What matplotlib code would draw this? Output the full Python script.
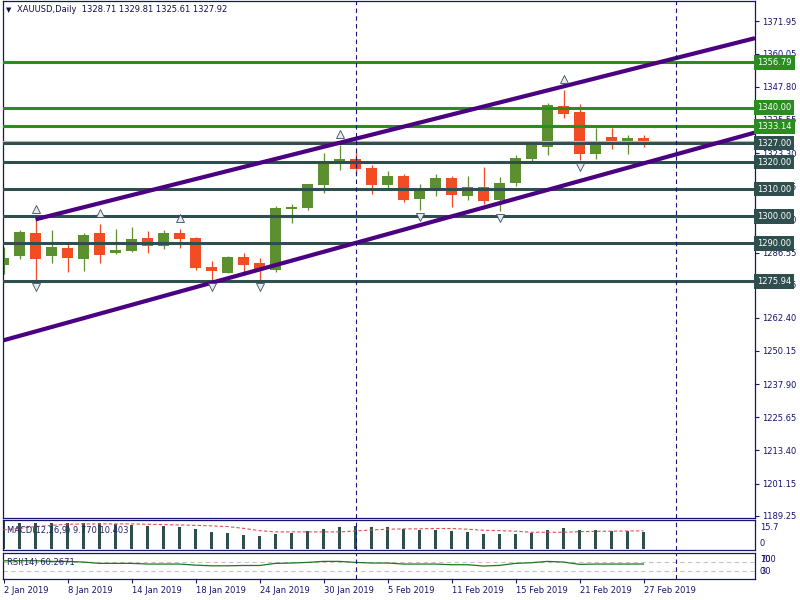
import numpy as np
import pandas as pd
import matplotlib
matplotlib.use("Agg")
import matplotlib.pyplot as plt

# ---- data ----
symbol = "XAUUSD,Daily"
start_date = "2019-01-02"

opens  = [1282.1, 1285.1, 1293.8, 1285.1, 1288.3, 1284.3, 1293.8, 1286.2, 1287.2, 1292.0,
          1289.1, 1293.7, 1291.9, 1281.1, 1278.9, 1284.8, 1282.6, 1280.0, 1302.8, 1303.0,
          1311.5, 1320.1, 1321.1, 1317.8, 1311.5, 1314.8, 1306.3, 1310.0, 1314.1, 1307.4,
          1310.7, 1305.9, 1312.2, 1321.2, 1325.7, 1340.7, 1338.5, 1323.1, 1329.3, 1327.2,
          1328.71]
highs  = [1288.6, 1294.9, 1298.6, 1294.9, 1290.1, 1293.8, 1297.2, 1295.3, 1296.0, 1294.6,
          1294.9, 1295.2, 1292.2, 1283.3, 1285.2, 1286.3, 1284.4, 1303.7, 1304.4, 1311.9,
          1323.3, 1326.3, 1323.7, 1318.9, 1316.7, 1315.6, 1311.9, 1315.6, 1314.8, 1314.8,
          1318.1, 1314.4, 1322.6, 1327.4, 1341.9, 1346.7, 1341.5, 1332.6, 1332.6, 1330.0,
          1329.81]
lows   = [1278.5, 1284.3, 1276.3, 1282.5, 1279.3, 1279.9, 1282.5, 1286.0, 1286.8, 1286.4,
          1287.7, 1288.3, 1280.1, 1276.3, 1278.9, 1278.1, 1276.3, 1279.3, 1297.4, 1302.2,
          1308.5, 1317.0, 1315.6, 1308.1, 1310.4, 1305.2, 1302.2, 1307.4, 1303.3, 1305.9,
          1304.4, 1301.9, 1311.1, 1320.4, 1322.6, 1336.4, 1320.9, 1321.2, 1324.9, 1323.1,
          1325.61]
closes = [1284.6, 1294.2, 1284.3, 1288.6, 1284.7, 1293.1, 1285.8, 1287.5, 1291.6, 1288.8,
          1293.8, 1291.5, 1280.7, 1279.6, 1284.8, 1281.9, 1280.4, 1303.0, 1303.4, 1311.9,
          1319.6, 1321.1, 1317.4, 1311.5, 1314.8, 1305.9, 1310.0, 1314.1, 1307.8, 1310.7,
          1305.6, 1312.2, 1321.5, 1326.4, 1341.1, 1337.9, 1323.1, 1327.8, 1327.2, 1328.9,
          1327.92]

macd   = [15.7, 15.0, 15.0, 14.7, 14.7, 15.0, 14.7, 14.3, 13.7, 13.2,
          13.2, 12.4, 11.5, 9.8, 9.0, 8.1, 7.5, 8.6, 9.4, 10.5,
          11.5, 12.4, 13.2, 12.8, 12.4, 11.5, 10.9, 10.9, 10.3, 9.8,
          8.6, 8.6, 8.6, 9.4, 10.9, 12.0, 10.9, 10.9, 10.3, 10.3,
          9.77]
signal = [10.9, 11.8, 12.8, 13.5, 14.1, 14.3, 14.3, 14.3, 14.3, 14.1,
          13.9, 13.7, 13.5, 13.2, 12.8, 11.8, 10.5, 9.8, 9.8, 9.8,
          9.8, 9.8, 10.3, 10.9, 11.3, 11.5, 11.5, 11.7, 11.7, 11.3,
          10.7, 10.5, 10.2, 9.6, 9.6, 9.6, 9.9, 10.1, 10.2, 10.3,
          10.403]
rsi    = [74.1, 74.1, 74.1, 71.3, 71.3, 68.5, 63.0, 63.0, 63.0, 60.2,
          60.2, 60.2, 55.8, 52.9, 52.9, 54.2, 54.2, 63.0, 64.4, 67.1,
          71.3, 71.3, 67.1, 64.4, 64.4, 60.2, 60.2, 60.2, 57.4, 57.4,
          51.9, 54.6, 63.0, 65.7, 71.3, 68.5, 58.8, 60.2, 60.2, 60.2,
          60.2671]

green_levels = [1356.79, 1340.00, 1333.14]
dark_levels  = [1327.00, 1320.00, 1310.00, 1300.00, 1290.00, 1275.94]

# trend lines: anchor bars and prices
upper_bars, upper_prices = [2, 40], [1298.8, 1355.4]
lower_bars, lower_prices = [0, 40], [1254.1, 1319.5]

fractal_up   = [2, 6, 11, 21, 35]
fractal_down = [2, 13, 16, 26, 31, 36]

price_ticks = [1371.95, 1360.05, 1347.80, 1335.55, 1323.30, 1311.05, 1298.80, 1286.55,
               1274.65, 1262.40, 1250.15, 1237.90, 1225.65, 1213.40, 1201.15, 1189.25]

# ---- styles ----
NAVY = "#16146e"
UP_C = "#5b8f2f"
DN_C = "#f24c25"
GREEN_LINE = "#2b8c22"
DARK_LINE = "#2f4f4f"
PURPLE = "#4b0082"
FS = 6

plt.rcParams["font.family"] = ["DejaVu Sans"]

W, H = 800, 600
fig = plt.figure(figsize=(8, 6), dpi=100)


def pane(top, bottom):
    a = fig.add_axes([3 / W, 1 - bottom / H, 752 / W, (bottom - top) / H])
    for s in a.spines.values():
        s.set_color(NAVY)
        s.set_linewidth(0.9)
    a.set_xlim(-0.5 / 16, 751.5 / 16)
    a.tick_params(left=False, labelleft=False, bottom=False, labelbottom=False)
    return a


ax = pane(0.5, 518)
ax_m = pane(520, 550)
ax_r = pane(552.5, 579)

n = len(closes)
x = np.arange(n)
o = np.array(opens); c = np.array(closes)
hi = np.array(highs); lo = np.array(lows)
cols = [UP_C if cc >= oo else DN_C for oo, cc in zip(o, c)]

# candles
ax.vlines(x, lo, hi, colors=cols, lw=0.9, zorder=2)
body = np.maximum(np.abs(c - o), 0.4)
ax.bar(x, body, bottom=np.minimum(o, c), width=0.69, color=cols, zorder=2.1)

# horizontal levels
for lvl in green_levels:
    ax.axhline(lvl, color=GREEN_LINE, lw=2.2, zorder=4)
for lvl in dark_levels:
    ax.axhline(lvl, color=DARK_LINE, lw=2.2, zorder=4)
ax.axhline(closes[-1], color="#b4b4b4", lw=0.8, zorder=4.2)

# trend lines extended to the right edge
xr = ax.get_xlim()[1]
for bars, prices, x0 in [(upper_bars, upper_prices, upper_bars[0]),
                         (lower_bars, lower_prices, ax.get_xlim()[0])]:
    k = (prices[1] - prices[0]) / (bars[1] - bars[0])
    ax.plot([x0, xr], [prices[0] + k * (x0 - bars[0]), prices[0] + k * (xr - bars[0])],
            color=PURPLE, lw=3.0, solid_capstyle="butt", zorder=5)

# fractals
ax.plot(fractal_up, hi[fractal_up] + 4.0, ls="none", marker="^", ms=5.5,
        mfc="#e4ecf3", mec="#3a4a5e", mew=0.6, zorder=6)
ax.plot(fractal_down, lo[fractal_down] - 2.6, ls="none", marker="v", ms=5.5,
        mfc="#e4ecf3", mec="#3a4a5e", mew=0.6, zorder=6)

ax.set_ylim(1188.42, 1379.7)
ax.yaxis.tick_right()
ax.set_yticks(price_ticks)
ax.set_yticklabels([f"{t:.2f}" for t in price_ticks])
ax.tick_params(axis="y", right=True, labelright=True, length=3, width=0.8,
               color=NAVY, labelcolor=NAVY, labelsize=FS, pad=2)

# level labels on the price scale
for lvls, fc in [(green_levels, GREEN_LINE), (dark_levels, DARK_LINE)]:
    for lvl in lvls:
        ax.annotate(f"{lvl:.2f}", xy=(1, lvl), xycoords=("axes fraction", "data"),
                    xytext=(1.5, 0), textcoords="offset points", ha="left", va="center",
                    fontsize=FS, color="white", zorder=10, annotation_clip=False,
                    bbox=dict(boxstyle="square,pad=0.35", fc=fc, ec="none"))

# MACD pane
ax_m.bar(x, macd, width=0.14, color=DARK_LINE, zorder=2)
ax_m.plot(x, signal, color="#e05050", lw=0.8, ls=(0, (3, 2)), zorder=3)
ax_m.set_ylim(-0.4, 16.5)

# RSI pane
ax_r.plot(x, rsi, color="#1a7a1a", lw=0.9, zorder=3)
for lv in (70, 30):
    ax_r.axhline(lv, color="#c4c4c4", lw=0.8, ls=(0, (4, 3)), zorder=1)
ax_r.set_ylim(-2.1, 108.3)

# dates / month separators
dates = pd.bdate_range(start_date, periods=n + 6)
seps = [i for i in range(1, len(dates)) if dates[i].month != dates[i - 1].month]
for a in (ax, ax_m, ax_r):
    for s in seps:
        a.axvline(s, color=NAVY, lw=0.8, ls=(0, (4, 3)), zorder=7)

ticks = x[::4]
ax_r.set_xticks(ticks)
ax_r.set_xticklabels([f"{dates[i].day} {dates[i]:%b %Y}" for i in ticks], ha="left")
ax_r.tick_params(axis="x", bottom=True, labelbottom=True, length=3, width=0.8,
                 color=NAVY, labelcolor=NAVY, labelsize=FS, pad=2)

# texts
fig.text(6 / W, 1 - 10 / H, "▼", fontsize=5, color="#10104a", va="center")
fig.text(17 / W, 1 - 10 / H,
         f"{symbol}  {opens[-1]:.2f} {highs[-1]:.2f} {lows[-1]:.2f} {closes[-1]:.2f}",
         fontsize=FS, color="#10104a", va="center")
fig.text(7 / W, 1 - 530 / H, f"MACD(12,26,9) {macd[-1]:.3f} {signal[-1]:.3f}",
         fontsize=FS, color="#22226a", va="center")
fig.text(7 / W, 1 - 562 / H, f"RSI(14) {rsi[-1]:.4f}",
         fontsize=FS, color="#22226a", va="center")
fig.text(760 / W, 1 - 527 / H, "15.7", fontsize=FS, color=NAVY, va="center")
fig.text(760 / W, 1 - 543 / H, "0", fontsize=FS, color=NAVY, va="center")
for t, yy in [("100", 559), ("70", 559), ("30", 571), ("0", 571)]:
    fig.text(760 / W, 1 - yy / H, t, fontsize=FS, color=NAVY, va="center")

fig.savefig("out.png", dpi=100, facecolor="white")
